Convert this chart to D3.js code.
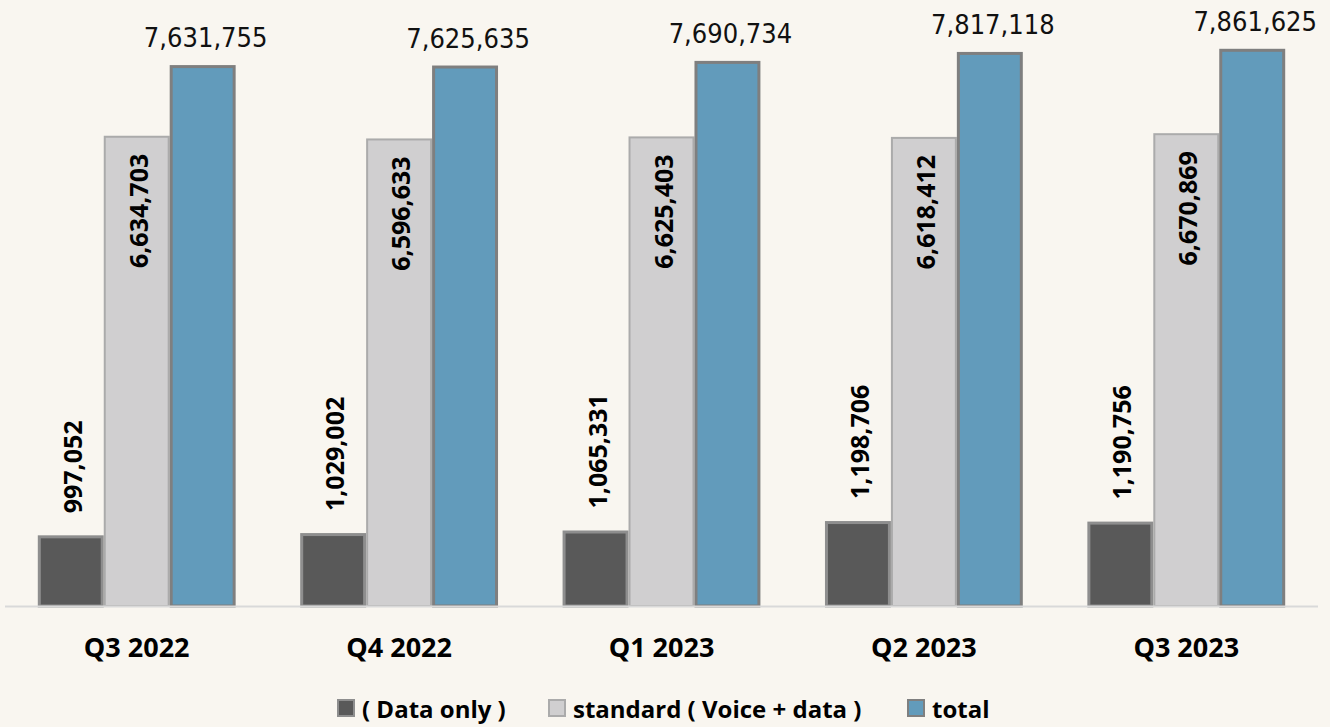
<!DOCTYPE html>
<html>
<head>
<meta charset="utf-8">
<script src="https://cdn.jsdelivr.net/npm/d3@7"></script>
<style>
  html, body { margin: 0; padding: 0; background: #f9f6f0; }
  svg { display: block; }
</style>
</head>
<body>
<script>
// chart data
var quarters  = ["Q3 2022", "Q4 2022", "Q1 2023", "Q2 2023", "Q3 2023"];
var seriesKeys = ["dataOnly", "standard", "total"];
var seriesNames = ["( Data only )", "standard ( Voice + data )", "total"];
var dataOnly  = [997052, 1029002, 1065331, 1198706, 1190756];
var standard  = [6634703, 6596633, 6625403, 6618412, 6670869];
var total     = [7631755, 7625635, 7690734, 7817118, 7861625];

var W = 1330, H = 727;
var fills   = { dataOnly: "#595959", standard: "#d0cfd0", total: "#629bbb" };
var strokes = { dataOnly: "#8e8e8e", standard: "#ababab", total: "#7f7f7f" };
var strokeW = { dataOnly: 3, standard: 2, total: 3 };

var rows = quarters.map(function (q, i) {
  return { q: q, dataOnly: dataOnly[i], standard: standard[i], total: total[i] };
});

var svg = d3.select("body").append("svg")
  .attr("width", W).attr("height", H);

svg.append("rect").attr("width", W).attr("height", H).attr("fill", "#f9f6f0");

var x0 = d3.scaleBand().domain(quarters).range([5, 1318])
  .paddingInner(0.246).paddingOuter(0.125);
var x1 = d3.scaleBand().domain(seriesKeys).range([0, x0.bandwidth()]).padding(0);
var y = d3.scaleLinear().domain([0, 8550000]).range([606, 0]);

var fmt = d3.format(",");

var groups = svg.selectAll("g.grp").data(rows).enter().append("g")
  .attr("class", "grp")
  .attr("transform", function (d) { return "translate(" + x0(d.q) + ",0)"; });

groups.selectAll("rect").data(function (d) {
    return seriesKeys.map(function (k) { return { key: k, value: d[k] }; });
  }).enter().append("rect")
  .attr("x", function (d) { return x1(d.key) + strokeW[d.key] / 2; })
  .attr("width", function (d) { return x1.bandwidth() - strokeW[d.key]; })
  .attr("y", function (d) { return y(d.value) + strokeW[d.key] / 2; })
  .attr("height", function (d) { return y(0) - y(d.value) - strokeW[d.key] / 2; })
  .attr("fill", function (d) { return fills[d.key]; })
  .attr("stroke", function (d) { return strokes[d.key]; })
  .attr("stroke-width", function (d) { return strokeW[d.key]; });

// baseline
svg.append("line")
  .attr("x1", 5).attr("x2", 1318)
  .attr("y1", y(0) + 0.5).attr("y2", y(0) + 0.5)
  .attr("stroke", "#d9d9d9").attr("stroke-width", 2);

// data only labels, rotated, above bar
groups.append("text")
  .attr("transform", function (d) {
    return "translate(" + (x1("dataOnly") + x1.bandwidth() / 2 + 2) + "," + (y(d.dataOnly) - 22) + ") rotate(-90)";
  })
  .attr("dy", "0.36em")
  .attr("text-anchor", "start")
  .style("font-family", "'Open Sans', sans-serif")
  .style("font-weight", "bold")
  .style("font-size", "25px")
  .attr("fill", "#000")
  .text(function (d) { return fmt(d.dataOnly); });

// standard labels, rotated, inside bar top
groups.append("text")
  .attr("transform", function (d) {
    return "translate(" + (x1("standard") + x1.bandwidth() / 2 + 2) + "," + (y(d.standard) + 18) + ") rotate(-90)";
  })
  .attr("dy", "0.36em")
  .attr("text-anchor", "end")
  .style("font-family", "'Open Sans', sans-serif")
  .style("font-weight", "bold")
  .style("font-size", "25px")
  .attr("fill", "#000")
  .text(function (d) { return fmt(d.standard); });

// total labels above bar
groups.append("text")
  .attr("x", function () { return x1("total") + x1.bandwidth() / 2 + 3; })
  .attr("y", function (d) { return y(d.total) - 18; })
  .attr("text-anchor", "middle")
  .style("font-family", "'DejaVu Sans Condensed', 'DejaVu Sans', sans-serif")
  .style("font-size", "27px")
  .attr("fill", "#111")
  .text(function (d) { return fmt(d.total); });

// category axis labels
svg.append("g").selectAll("text").data(quarters).enter().append("text")
  .attr("x", function (d) { return x0(d) + x0.bandwidth() / 2; })
  .attr("y", 657)
  .attr("text-anchor", "middle")
  .style("font-family", "'Open Sans', sans-serif")
  .style("font-weight", "bold")
  .style("font-size", "27px")
  .attr("fill", "#000")
  .text(function (d) { return d; });

// legend
var legendX = [337, 548, 907];
var lg = svg.append("g").selectAll("g").data(seriesKeys).enter().append("g")
  .attr("transform", function (d, i) { return "translate(" + legendX[i] + ",699)"; });
lg.append("rect")
  .attr("x", 1).attr("y", 1).attr("width", 16).attr("height", 16)
  .attr("fill", function (d) { return fills[d]; })
  .attr("stroke", function (d) { return strokes[d]; })
  .attr("stroke-width", 2);
lg.append("text")
  .attr("x", 25).attr("y", 19)
  .style("font-family", "'Open Sans', sans-serif")
  .style("font-weight", "bold")
  .style("font-size", "24px")
  .attr("fill", "#000")
  .text(function (d, i) { return seriesNames[i]; });
</script>
</body>
</html>
